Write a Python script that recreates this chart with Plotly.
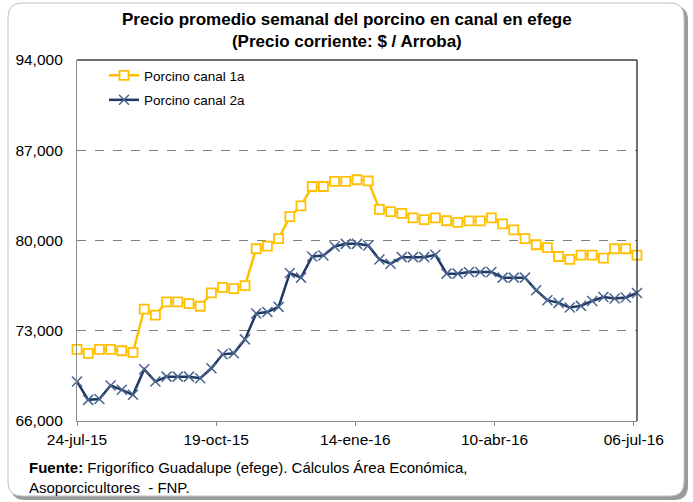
import plotly.graph_objects as go
import pandas as pd

# Weekly dates (51 weeks)
fechas = pd.date_range("2015-07-24", periods=51, freq="7D")

canal_1a = [71560, 71250, 71560, 71560, 71450, 71330, 74670, 74210, 75240, 75240,
            75110, 74900, 75930, 76370, 76270, 76500, 79360, 79560, 80150, 81850,
            82680, 84190, 84190, 84580, 84580, 84710, 84630, 82420, 82240, 82110,
            81750, 81620, 81750, 81530, 81410, 81520, 81520, 81750, 81290, 80830,
            80150, 79670, 79440, 78760, 78530, 78870, 78870, 78630, 79360, 79360,
            78870]

canal_2a = [69060, 67640, 67700, 68750, 68420, 68030, 70010, 69060, 69440, 69440,
            69440, 69320, 70090, 71170, 71250, 72330, 74340, 74460, 74850, 77480,
            77120, 78760, 78840, 79540, 79740, 79740, 79610, 78530, 78200, 78710,
            78710, 78710, 78890, 77430, 77430, 77560, 77560, 77560, 77120, 77120,
            77120, 76140, 75370, 75160, 74800, 74930, 75310, 75620, 75500, 75580,
            75930]

tick_fechas = ["2015-07-24", "2015-10-19", "2016-01-14", "2016-04-10", "2016-07-06"]
tick_textos = ["24-jul-15", "19-oct-15", "14-ene-16", "10-abr-16", "06-jul-16"]
y_ticks = [66000, 73000, 80000, 87000, 94000]

FONT = "Liberation Sans, Arial, sans-serif"

fig = go.Figure()
fig.add_trace(go.Scatter(
    x=fechas, y=canal_1a, name="Porcino canal 1a", mode="lines+markers",
    line=dict(color="#FFC000", width=2.5),
    marker=dict(symbol="square", size=9, color="white",
                line=dict(color="#FFC000", width=1.8)),
    legendgroup="a", cliponaxis=False))
fig.add_trace(go.Scatter(
    x=fechas, y=canal_2a, name="Porcino canal 2a", mode="lines+markers",
    line=dict(color="#1F3864", width=2.5),
    marker=dict(symbol="x-thin", size=10, color="#4A6590",
                line=dict(color="#4A6590", width=1.5)),
    legendgroup="b", cliponaxis=False))

# plot area in pixels
FW, FH = 693, 502
L, R, T, B = 77, 637, 60, 421
W, H = R - L, B - T


def px(xp):
    return (xp - L) / W


def py(yp):
    return (B - yp) / H


def rrect(x0, y0, x1, y1, r):
    rx, ry = r / W, r / H
    X0, X1 = px(x0), px(x1)
    Y0, Y1 = py(y0), py(y1)  # Y0 top, Y1 bottom
    return (f"M {X0+rx},{Y0} L {X1-rx},{Y0} Q {X1},{Y0} {X1},{Y0-ry} "
            f"L {X1},{Y1+ry} Q {X1},{Y1} {X1-rx},{Y1} L {X0+rx},{Y1} "
            f"Q {X0},{Y1} {X0},{Y1+ry} L {X0},{Y0-ry} Q {X0},{Y0} {X0+rx},{Y0} Z")


shapes = [
    dict(type="path", xref="paper", yref="paper", path=rrect(11, 6, 688, 500, 14),
         fillcolor="#9a9a9a", line=dict(width=0), layer="below"),
    dict(type="path", xref="paper", yref="paper", path=rrect(8, 3, 684, 496, 14),
         fillcolor="white", line=dict(color="#bfbfbf", width=1), layer="below"),
]

fig.update_layout(
    width=FW, height=FH,
    margin=dict(l=L, r=FW - R, t=T, b=FH - B),
    paper_bgcolor="white", plot_bgcolor="white",
    font=dict(family=FONT, size=15, color="#000000"),
    showlegend=True,
    legend=dict(x=px(104), y=py(60), xanchor="left", yanchor="top",
                bgcolor="rgba(0,0,0,0)", font=dict(size=13.5, family=FONT),
                traceorder="grouped", tracegroupgap=4, itemwidth=30),
    shapes=shapes,
    annotations=[
        dict(text="<b>Precio promedio semanal del porcino en canal en efege<br>(Precio corriente: $ / Arroba)</b>",
             xref="paper", yref="paper", x=px(347), y=py(8), xanchor="center", yanchor="top",
             align="center", showarrow=False, font=dict(size=17, family=FONT)),
        dict(text="<b>Fuente:</b> Frigorífico Guadalupe (efege). Cálculos Área Económica,<br>Asoporcicultores  - FNP.",
             xref="paper", yref="paper", x=px(27), y=py(457), xanchor="left", yanchor="top",
             align="left", showarrow=False, font=dict(size=15, family=FONT))],
)

fig.update_xaxes(
    type="date", range=["2015-07-24", "2016-07-08"],
    tickvals=tick_fechas, ticktext=tick_textos,
    showgrid=False, showline=True, linecolor="#8c8c8c", linewidth=1.2,
    mirror=False, ticks="outside", ticklen=4, tickcolor="#8c8c8c",
    tickfont=dict(size=15.5, family=FONT), zeroline=False)
fig.update_yaxes(
    range=[66000, 94000], tickvals=y_ticks, tickformat=",d",
    showgrid=True, gridcolor="#7f7f7f", griddash="dash", gridwidth=1,
    showline=True, linecolor="#8c8c8c", linewidth=1.2,
    ticks="", ticklabelstandoff=10, tickfont=dict(size=15.5, family=FONT), zeroline=False)

# top and right border of plot area
fig.add_shape(type="line", xref="paper", yref="paper", x0=0, x1=1, y0=1, y1=1,
              line=dict(color="#404040", width=1.5))
fig.add_shape(type="line", xref="paper", yref="paper", x0=1, x1=1, y0=0, y1=1,
              line=dict(color="#404040", width=1.5))

fig.write_html("out.html", config={"displayModeBar": False},
               post_script="document.body.style.margin='0px';")
